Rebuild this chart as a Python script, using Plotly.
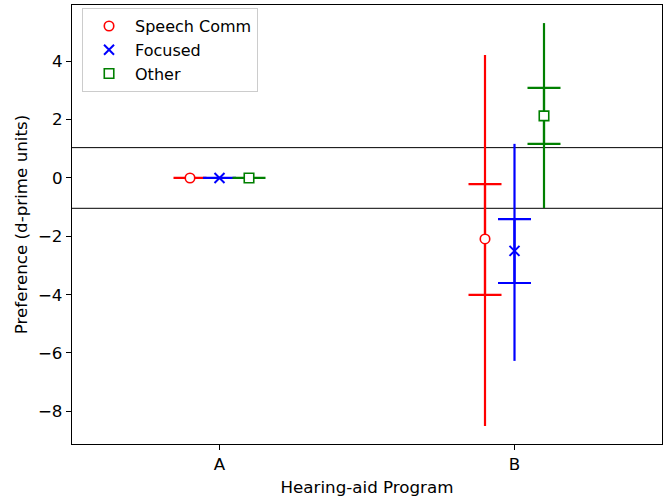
import plotly.graph_objects as go

programs = ["A", "B"]
series_names = ["Speech Comm", "Focused", "Other"]
colors = ["red", "blue", "green"]
symbols = ["circle", "x-thin-open", "square"]

speech_mean = [0.0, -2.09]
speech_outer_lo = [0.0, -8.50]
speech_outer_hi = [0.0, 4.22]
speech_inner_lo = [0.0, -4.01]
speech_inner_hi = [0.0, -0.21]

focused_mean = [0.0, -2.50]
focused_outer_lo = [0.0, -6.27]
focused_outer_hi = [0.0, 1.17]
focused_inner_lo = [0.0, -3.60]
focused_inner_hi = [0.0, -1.41]

other_mean = [0.0, 2.13]
other_outer_lo = [0.0, -1.03]
other_outer_hi = [0.0, 5.31]
other_inner_lo = [0.0, 1.17]
other_inner_hi = [0.0, 3.09]

ref_lines = [1.04, -1.04]

series = [
    (speech_mean, speech_outer_lo, speech_outer_hi, speech_inner_lo, speech_inner_hi),
    (focused_mean, focused_outer_lo, focused_outer_hi, focused_inner_lo, focused_inner_hi),
    (other_mean, other_outer_lo, other_outer_hi, other_inner_lo, other_inner_hi),
]
offsets = [-0.1, 0.0, 0.1]

FS = 16.7

fig = go.Figure()
for name, color, sym, off, (m, olo, ohi, ilo, ihi) in zip(series_names, colors, symbols, offsets, series):
    xs = [i + off for i in range(len(programs))]
    # outer interval (no caps)
    fig.add_trace(go.Scatter(
        x=xs, y=m, mode="markers", marker=dict(opacity=0, size=1),
        showlegend=False, hoverinfo="skip",
        error_y=dict(type="data", symmetric=False,
                     array=[h - v for h, v in zip(ohi, m)],
                     arrayminus=[v - l for l, v in zip(olo, m)],
                     color=color, thickness=2.2, width=0)))
    # inner interval (caps)
    fig.add_trace(go.Scatter(
        x=xs, y=m, mode="markers", marker=dict(opacity=0, size=1),
        showlegend=False, hoverinfo="skip",
        error_y=dict(type="data", symmetric=False,
                     array=[h - v for h, v in zip(ihi, m)],
                     arrayminus=[v - l for l, v in zip(ilo, m)],
                     color=color, thickness=2.2, width=16.5)))
    # markers
    if sym == "x-thin-open":
        mk = dict(symbol=sym, size=10, color=color, line=dict(color=color, width=2))
    else:
        mk = dict(symbol=sym, size=9.5, color="white", line=dict(color=color, width=1.6))
    fig.add_trace(go.Scatter(x=xs, y=m, mode="markers", name=name, marker=mk))

for yv in ref_lines:
    fig.add_shape(type="line", xref="paper", x0=0, x1=1, yref="y", y0=yv, y1=yv,
                  line=dict(color="black", width=1), layer="below")

axis_common = dict(showline=True, linecolor="black", linewidth=1.3, mirror=True,
                   ticks="outside", ticklen=5, tickwidth=1.2, tickcolor="black",
                   showgrid=False, zeroline=False,
                   tickfont=dict(family="DejaVu Sans", size=FS, color="black"))

fig.update_layout(
    width=665, height=498,
    margin=dict(l=72, r=3, t=5, b=54),
    paper_bgcolor="white", plot_bgcolor="white",
    font=dict(family="DejaVu Sans", size=FS, color="black"),
    xaxis=dict(range=[-0.5, 1.5], tickvals=[0, 1], ticktext=programs,
               title=dict(text="Hearing-aid Program", standoff=8,
                          font=dict(family="DejaVu Sans", size=FS)),
               **axis_common),
    yaxis=dict(range=[-9.12, 5.93], tickvals=[-8, -6, -4, -2, 0, 2, 4],
               title=dict(text="Preference (d-prime units)", standoff=6,
                          font=dict(family="DejaVu Sans", size=FS)),
               **axis_common),
    legend=dict(x=0.017, y=0.993, xanchor="left", yanchor="top",
                bordercolor="#cccccc", borderwidth=1, bgcolor="white",
                itemwidth=42, font=dict(family="DejaVu Sans", size=16)),
)

fig.write_html("out.html")
